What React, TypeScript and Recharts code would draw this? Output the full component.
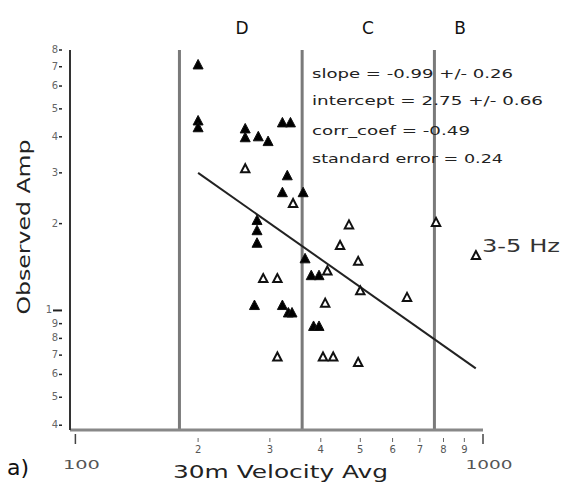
import React from 'react';
import { ScatterChart, Scatter, XAxis, YAxis, ReferenceLine } from 'recharts';

// Observed amplification vs 30m average velocity (log-log)
const filledPoints = [
  { v: 200, amp: 7.1 },
  { v: 200, amp: 4.54 },
  { v: 200, amp: 4.3 },
  { v: 261, amp: 4.26 },
  { v: 261, amp: 3.97 },
  { v: 281, amp: 4.0 },
  { v: 297, amp: 3.85 },
  { v: 322, amp: 4.47 },
  { v: 337, amp: 4.47 },
  { v: 331, amp: 2.93 },
  { v: 322, amp: 2.56 },
  { v: 362, amp: 2.56 },
  { v: 279, amp: 2.05 },
  { v: 279, amp: 1.89 },
  { v: 279, amp: 1.71 },
  { v: 366, amp: 1.51 },
  { v: 275, amp: 1.04 },
  { v: 322, amp: 1.04 },
  { v: 333, amp: 0.98 },
  { v: 340, amp: 0.98 },
  { v: 379, amp: 1.32 },
  { v: 396, amp: 1.32 },
  { v: 384, amp: 0.88 },
  { v: 396, amp: 0.88 },
];

const openPoints = [
  { v: 261, amp: 3.1 },
  { v: 342, amp: 2.35 },
  { v: 289, amp: 1.29 },
  { v: 313, amp: 1.29 },
  { v: 313, amp: 0.69 },
  { v: 469, amp: 1.98 },
  { v: 446, amp: 1.68 },
  { v: 494, amp: 1.48 },
  { v: 415, amp: 1.37 },
  { v: 500, amp: 1.17 },
  { v: 651, amp: 1.11 },
  { v: 410, amp: 1.06 },
  { v: 405, amp: 0.69 },
  { v: 429, amp: 0.69 },
  { v: 494, amp: 0.66 },
  { v: 767, amp: 2.02 },
  { v: 961, amp: 1.55 },
];

const regressionLine = [
  { v: 200, amp: 3.0 },
  { v: 960, amp: 0.63 },
];

const siteClassBounds = [180, 360, 760];
const xTicks = [100, 200, 300, 400, 500, 600, 700, 800, 900, 1000];
const yTicks = [0.4, 0.5, 0.6, 0.7, 0.8, 0.9, 1, 2, 3, 4, 5, 6, 7, 8];
const statsLines = [
  'slope = -0.99 +/- 0.26',
  'intercept = 2.75 +/- 0.66',
  'corr_coef = -0.49',
  'standard error = 0.24',
];
const statsWidths = [201, 231, 158, 191];
const classLabels = ['D', 'C', 'B'];

const FONT = '"DejaVu Sans", Verdana, sans-serif';

const FilledTri = (props: any) => {
  const { cx, cy } = props;
  if (cx == null || cy == null) return null;
  return (
    <polygon
      points={`${cx},${cy - 5.5} ${cx - 5},${cy + 4} ${cx + 5},${cy + 4}`}
      fill="#000"
      stroke="#111"
      strokeWidth={1}
    />
  );
};

const OpenTri = (props: any) => {
  const { cx, cy } = props;
  if (cx == null || cy == null) return null;
  return (
    <polygon
      points={`${cx},${cy - 4.5} ${cx - 4.2},${cy + 3.5} ${cx + 4.2},${cy + 3.5}`}
      fill="#fff"
      stroke="#111"
      strokeWidth={2}
    />
  );
};

const XTick = (props: any) => {
  const { x, y, payload } = props;
  const val = payload.value;
  if (val === 100 || val === 1000) {
    return (
      <g>
        <line x1={x} y1={y - 4} x2={x} y2={y + 6} stroke="#444" strokeWidth={1.5} />
        <text
          x={x + 6}
          y={y + 31}
          textAnchor="middle"
          fontFamily={FONT}
          fontSize={13}
          fill="#555"
          textLength={val === 100 ? 37 : 47}
          lengthAdjust="spacingAndGlyphs"
        >
          {String(val)}
        </text>
      </g>
    );
  }
  return (
    <g>
      <line x1={x} y1={y} x2={x} y2={y + 4} stroke="#666" strokeWidth={1} />
      <text x={x} y={y + 15} textAnchor="middle" fontFamily={FONT} fontSize={10} fill="#555">
        {String(val / 100)}
      </text>
    </g>
  );
};

const YTick = (props: any) => {
  const { x, y, payload } = props;
  const val = payload.value;
  const label = val < 1 ? String(Math.round(val * 10)) : String(val);
  const major = val === 1;
  return (
    <g>
      <line x1={major ? x - 9 : x - 3} y1={y} x2={x} y2={y} stroke="#222" strokeWidth={major ? 2 : 1.5} />
      <text
        x={major ? x - 13 : x - 7}
        y={y + 3}
        textAnchor="middle"
        fontFamily={FONT}
        fontSize={10}
        fill="#666"
      >
        {label}
      </text>
    </g>
  );
};

export default function App() {
  const classCenters = [242, 368, 460];
  return (
    <div style={{ position: 'absolute', left: 0, top: 0, width: 563, height: 482, background: '#fff' }}>
      <ScatterChart width={563} height={482} margin={{ top: 50, right: 80, bottom: 0, left: 0 }}>
        <XAxis
          dataKey="v"
          type="number"
          scale="log"
          domain={[97, 1000]}
          allowDataOverflow
          ticks={xTicks}
          tick={<XTick />}
          tickLine={false}
          axisLine={{ stroke: '#888', strokeWidth: 3 }}
          height={52}
          interval={0}
        />
        <YAxis
          dataKey="amp"
          type="number"
          scale="log"
          domain={[0.385, 8]}
          allowDataOverflow
          ticks={yTicks}
          tick={<YTick />}
          tickLine={false}
          axisLine={{ stroke: '#333', strokeWidth: 2 }}
          width={70}
          interval={0}
        />
        {siteClassBounds.map((b) => (
          <ReferenceLine key={b} x={b} stroke="#7a7a7a" strokeWidth={3} ifOverflow="visible" />
        ))}
        <ReferenceLine
          segment={[
            { x: regressionLine[0].v, y: regressionLine[0].amp },
            { x: regressionLine[1].v, y: regressionLine[1].amp },
          ]}
          stroke="#222"
          strokeWidth={2}
          ifOverflow="visible"
        />
        <Scatter data={filledPoints} shape={<FilledTri />} isAnimationActive={false} />
        <Scatter data={openPoints} shape={<OpenTri />} isAnimationActive={false} />
      </ScatterChart>
      <svg
        width={563}
        height={482}
        style={{ position: 'absolute', left: 0, top: 0, pointerEvents: 'none' }}
      >
        {classLabels.map((l, i) => (
          <text key={l} x={classCenters[i]} y={34} textAnchor="middle" fontFamily={FONT} fontSize={17} fill="#111">
            {l}
          </text>
        ))}
        {statsLines.map((s, i) => (
          <text
            key={s}
            x={312}
            y={[78, 105, 135, 163][i]}
            fontFamily={FONT}
            fontSize={13}
            fill="#222"
            textLength={statsWidths[i]}
            lengthAdjust="spacingAndGlyphs"
          >
            {s}
          </text>
        ))}
        <text x={482} y={252} fontFamily={FONT} fontSize={17} fill="#333" textLength={78} lengthAdjust="spacingAndGlyphs">
          3-5 Hz
        </text>
        <text
          x={0}
          y={0}
          transform="translate(30,227) rotate(-90)"
          textAnchor="middle"
          fontFamily={FONT}
          fontSize={17}
          fill="#222"
          textLength={175}
          lengthAdjust="spacingAndGlyphs"
        >
          Observed Amp
        </text>
        <text
          x={173}
          y={478}
          fontFamily={FONT}
          fontSize={17}
          fill="#222"
          textLength={215}
          lengthAdjust="spacingAndGlyphs"
        >
          30m Velocity Avg
        </text>
        <text x={7} y={475} fontFamily={FONT} fontSize={22} fill="#111">
          a)
        </text>
      </svg>
    </div>
  );
}
